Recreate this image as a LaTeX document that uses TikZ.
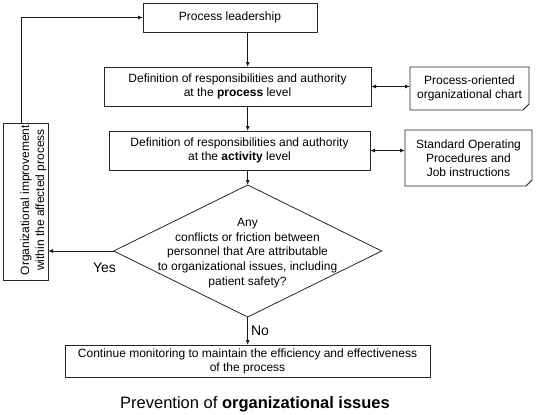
\documentclass[tikz,border=0pt]{standalone}
\usepackage{fontspec}
\setmainfont{Liberation Sans}
\usepackage{graphicx}
\usetikzlibrary{shapes.geometric,arrows.meta}
\tikzset{
  box/.style={draw=black!85, line width=0.8pt, rectangle, inner sep=0pt, outer sep=0pt, align=center,
    font=\fontsize{12}{14}\selectfont},
  docbox/.style={rectangle, inner sep=0pt, outer sep=0pt, align=center,
    font=\fontsize{12}{14}\selectfont},
  conn/.style={line width=1pt, black!90, -{Latex[length=5pt,width=4pt]}},
  dconn/.style={line width=1pt, black!90, {Latex[length=5pt,width=4pt]}-{Latex[length=5pt,width=4pt]}},
  lbl/.style={font=\fontsize{14}{16}\selectfont, inner sep=0pt},
}
\newcommand{\docframe}[1]{%
  \draw[black!85, line width=0.8pt] (#1.north west) -- (#1.north east) -- ([yshift=6pt]#1.south east)
    -- ([xshift=-6pt]#1.south east) -- (#1.south west) -- cycle;
  \draw[black!85, line width=0.6pt] ([yshift=6pt]#1.south east) -- ([xshift=-3.5pt,yshift=2.5pt]#1.south east) -- ([xshift=-6pt]#1.south east);
}
\begin{document}
\begin{tikzpicture}[x=1pt,y=-1pt]
\useasboundingbox (0,0) rectangle (536,415);

\node[box, minimum width=174pt, minimum height=29pt] (b1) at (230,17.5) {Process leadership};
\node[box, minimum width=267pt, minimum height=39pt] (b2) at (237.5,86.5)
  {Definition of responsibilities and authority\\at the \textbf{process} level};
\node[box, minimum width=261pt, minimum height=39pt] (b3) at (239.5,150.5)
  {Definition of responsibilities and authority\\at the \textbf{activity} level};

\node[docbox, minimum width=119pt, minimum height=43pt] (r1) at (469.5,88.5)
  {Process-oriented\\organizational chart};
\docframe{r1}
\node[docbox, minimum width=127pt, minimum height=56pt] (r2) at (468.5,158)
  {Standard Operating\\Procedures and\\Job instructions};
\docframe{r2}

\node[draw=black!85, line width=0.8pt, diamond, minimum width=268pt, minimum height=132pt, inner sep=0pt, outer sep=0pt] (dec) at (247.7,251) {};
\node[align=center, inner sep=0pt, font=\fontsize{12}{14.8}\selectfont] (dectext) at (247.5,253)
  {Any\\conflicts or friction between\\personnel that Are attributable\\to organizational issues, including\\patient safety?};

\node[box, minimum width=45pt, minimum height=157pt] (lb) at (25.5,201.5) {};
\node[inner sep=0pt, font=\fontsize{12}{15}\selectfont] (lbtext) at (33.5,200)
  {\rotatebox{90}{\begin{tabular}{@{}c@{}}Organizational improvement\\within the affected process\end{tabular}}};

\node[box, minimum width=365pt, minimum height=32pt] (b4) at (247.5,361)
  {Continue monitoring to maintain the efficiency and effectiveness\\of the process};

\node[inner sep=0pt, font=\fontsize{16.5}{19}\selectfont] (title) at (255,404)
  {Prevention of \textbf{organizational issues}};

\node[lbl] (yes) at (104.5,267.5) {Yes};
\node[lbl] (no) at (260,331) {No};

\draw[conn] (b1.south -| dec.north) -- (b2.north -| dec.north);
\draw[conn] (b2.south -| dec.north) -- (b3.north -| dec.north);
\draw[conn] (b3.south -| dec.north) -- (dec.north);
\draw[conn] (dec.south) -- (b4.north -| dec.south);
\draw[dconn] (b2.east) -- (r1.west |- b2.east);
\draw[dconn] (b3.east) -- (r2.west |- b3.east);
\draw[conn] (dec.west) -- (lb.east |- dec.west);
\coordinate (fb) at (21.5,17.5);
\draw[conn] (lb.north -| fb) -- (fb) -- (b1.west);
\end{tikzpicture}
\end{document}
